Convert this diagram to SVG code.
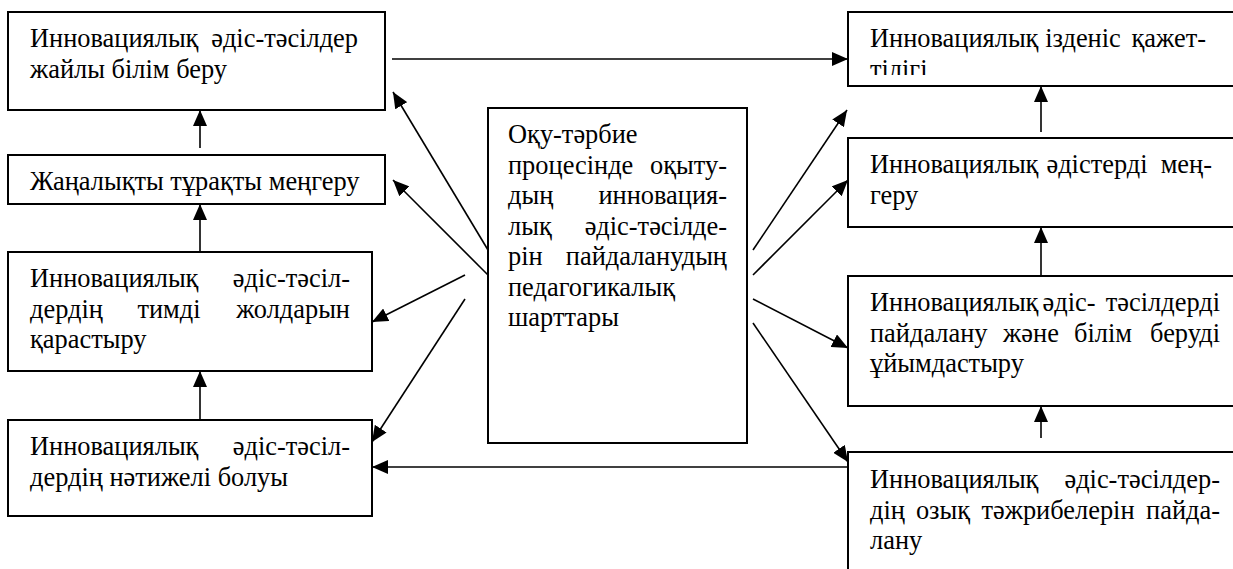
<svg xmlns="http://www.w3.org/2000/svg" width="1233" height="569" viewBox="0 0 1233 569">
<style>
.box{fill:#fff;stroke:#000;stroke-width:2}
.t{fill:#000}
.e{text-anchor:end}
.m{text-anchor:middle}
.c{fill:none;stroke:#000;stroke-width:1.6}
</style>
<defs>
<marker id="ah" markerUnits="userSpaceOnUse" markerWidth="16" markerHeight="14" refX="16" refY="7" orient="auto">
<path d="M0,0 L16,7 L0,14 z" fill="#000"/>
</marker>
<clipPath id="r1clip"><rect x="849" y="13" width="390" height="62"/></clipPath>
</defs>
<rect width="1233" height="569" fill="#fff"/>

<g id="L1">
<rect class="box" x="8" y="12" width="377" height="98"/>
<text class="t" font-family="Liberation Serif, serif" font-size="26.4" x="30" y="47">Инновациялық</text>
<text class="t e" font-family="Liberation Serif, serif" font-size="26.4" x="358" y="47">әдіс-тәсілдер</text>
<text class="t" font-family="Liberation Serif, serif" font-size="26.4" x="30" y="77.5">жайлы білім беру</text>
</g>

<g id="L2">
<rect class="box" x="8" y="155" width="377" height="49"/>
<text class="t" font-family="Liberation Serif, serif" font-size="26.4" x="30" y="190">Жаңалықты тұрақты меңгеру</text>
</g>

<g id="L3">
<rect class="box" x="8" y="252" width="364" height="119"/>
<text class="t" font-family="Liberation Serif, serif" font-size="26.4" x="30" y="287">Инновациялық</text>
<text class="t e" font-family="Liberation Serif, serif" font-size="26.4" x="350" y="287">әдіс-тәсіл-</text>
<text class="t" font-family="Liberation Serif, serif" font-size="26.4" x="30" y="317.5">дердің</text>
<text class="t m" font-family="Liberation Serif, serif" font-size="26.4" x="169" y="317.5">тимді</text>
<text class="t e" font-family="Liberation Serif, serif" font-size="26.4" x="350" y="317.5">жолдарын</text>
<text class="t" font-family="Liberation Serif, serif" font-size="26.4" x="30" y="348">қарастыру</text>
</g>

<g id="L4">
<rect class="box" x="8" y="420" width="364" height="96"/>
<text class="t" font-family="Liberation Serif, serif" font-size="26.4" x="30" y="455">Инновациялық</text>
<text class="t e" font-family="Liberation Serif, serif" font-size="26.4" x="350" y="455">әдіс-тәсіл-</text>
<text class="t" font-family="Liberation Serif, serif" font-size="26.4" x="30" y="485.5">дердің нәтижелі болуы</text>
</g>

<g id="C">
<rect class="box" x="488" y="108" width="259" height="335"/>
<text class="t" font-family="Liberation Serif, serif" font-size="26.4" x="508" y="143">Оқу-тәрбие</text>
<text class="t" font-family="Liberation Serif, serif" font-size="26.4" x="508" y="173.5">процесінде</text>
<text class="t e" font-family="Liberation Serif, serif" font-size="26.4" x="727" y="173.5">оқыту-</text>
<text class="t" font-family="Liberation Serif, serif" font-size="26.4" x="508" y="204">дың</text>
<text class="t e" font-family="Liberation Serif, serif" font-size="26.4" x="727" y="204">инновация-</text>
<text class="t" font-family="Liberation Serif, serif" font-size="26.4" x="508" y="234.5">лық</text>
<text class="t e" font-family="Liberation Serif, serif" font-size="26.4" x="727" y="234.5">әдіс-тәсілде-</text>
<text class="t" font-family="Liberation Serif, serif" font-size="26.4" x="508" y="265">рін</text>
<text class="t e" font-family="Liberation Serif, serif" font-size="26.4" x="727" y="265">пайдаланудың</text>
<text class="t" font-family="Liberation Serif, serif" font-size="26.4" x="508" y="295.5">педагогикалық</text>
<text class="t" font-family="Liberation Serif, serif" font-size="26.4" x="508" y="326">шарттары</text>
</g>

<g id="R1">
<rect class="box" x="848" y="12" width="395" height="74"/>
<g clip-path="url(#r1clip)">
<text class="t" font-family="Liberation Serif, serif" font-size="26.4" x="870" y="47">Инновациялық</text>
<text class="t m" font-family="Liberation Serif, serif" font-size="26.4" x="1083" y="47">ізденіс</text>
<text class="t e" font-family="Liberation Serif, serif" font-size="26.4" x="1206" y="47">қажет-</text>
<text class="t" font-family="Liberation Serif, serif" font-size="26.4" x="870" y="77.5">тілігі</text>
</g>
</g>

<g id="R2">
<rect class="box" x="848" y="138" width="395" height="89"/>
<text class="t" font-family="Liberation Serif, serif" font-size="26.4" x="870" y="173">Инновациялық</text>
<text class="t m" font-family="Liberation Serif, serif" font-size="26.4" x="1097" y="173">әдістерді</text>
<text class="t e" font-family="Liberation Serif, serif" font-size="26.4" x="1212" y="173">мең-</text>
<text class="t" font-family="Liberation Serif, serif" font-size="26.4" x="870" y="203.5">геру</text>
</g>

<g id="R3">
<rect class="box" x="848" y="276" width="395" height="130"/>
<text class="t" font-family="Liberation Serif, serif" font-size="26.4" x="870" y="311">Инновациялық</text>
<text class="t m" font-family="Liberation Serif, serif" font-size="26.4" x="1069" y="311">әдіс-</text>
<text class="t e" font-family="Liberation Serif, serif" font-size="26.4" x="1220" y="311">тәсілдерді</text>
<text class="t" font-family="Liberation Serif, serif" font-size="26.4" x="870" y="341.5">пайдалану</text>
<text class="t m" font-family="Liberation Serif, serif" font-size="26.4" x="1031" y="341.5">және</text>
<text class="t m" font-family="Liberation Serif, serif" font-size="26.4" x="1103" y="341.5">білім</text>
<text class="t e" font-family="Liberation Serif, serif" font-size="26.4" x="1220" y="341.5">беруді</text>
<text class="t" font-family="Liberation Serif, serif" font-size="26.4" x="870" y="372">ұйымдастыру</text>
</g>

<g id="R4">
<rect class="box" x="848" y="452" width="395" height="150"/>
<text class="t" font-family="Liberation Serif, serif" font-size="26.4" x="870" y="488">Инновациялық</text>
<text class="t e" font-family="Liberation Serif, serif" font-size="26.4" x="1220" y="488">әдіс-тәсілдер-</text>
<text class="t" font-family="Liberation Serif, serif" font-size="26.4" x="870" y="518.5">дің</text>
<text class="t m" font-family="Liberation Serif, serif" font-size="26.4" x="943" y="518.5">озық</text>
<text class="t m" font-family="Liberation Serif, serif" font-size="26.4" x="1058" y="518.5">тәжрибелерін</text>
<text class="t e" font-family="Liberation Serif, serif" font-size="26.4" x="1220" y="518.5">пайда-</text>
<text class="t" font-family="Liberation Serif, serif" font-size="26.4" x="870" y="549">лану</text>
</g>

<g id="connectors">
<line class="c" x1="392" y1="59" x2="848" y2="59" marker-end="url(#ah)"/>
<line class="c" x1="848" y1="467" x2="372" y2="467" marker-end="url(#ah)"/>
<line class="c" x1="200" y1="148" x2="200" y2="110" marker-end="url(#ah)"/>
<line class="c" x1="200" y1="252" x2="200" y2="204" marker-end="url(#ah)"/>
<line class="c" x1="200" y1="420" x2="200" y2="371" marker-end="url(#ah)"/>
<line class="c" x1="1041" y1="132" x2="1041" y2="86" marker-end="url(#ah)"/>
<line class="c" x1="1041" y1="276" x2="1041" y2="227" marker-end="url(#ah)"/>
<line class="c" x1="1041" y1="438" x2="1041" y2="406" marker-end="url(#ah)"/>
<line class="c" x1="488" y1="250" x2="393" y2="92" marker-end="url(#ah)"/>
<line class="c" x1="488" y1="275" x2="393" y2="180" marker-end="url(#ah)"/>
<line class="c" x1="465" y1="275" x2="372" y2="322" marker-end="url(#ah)"/>
<line class="c" x1="465" y1="299" x2="372" y2="442" marker-end="url(#ah)"/>
<line class="c" x1="753" y1="250" x2="847" y2="110" marker-end="url(#ah)"/>
<line class="c" x1="753" y1="275" x2="848" y2="180" marker-end="url(#ah)"/>
<line class="c" x1="753" y1="299" x2="848" y2="348" marker-end="url(#ah)"/>
<line class="c" x1="753" y1="323" x2="848" y2="462" marker-end="url(#ah)"/>
</g>
</svg>
